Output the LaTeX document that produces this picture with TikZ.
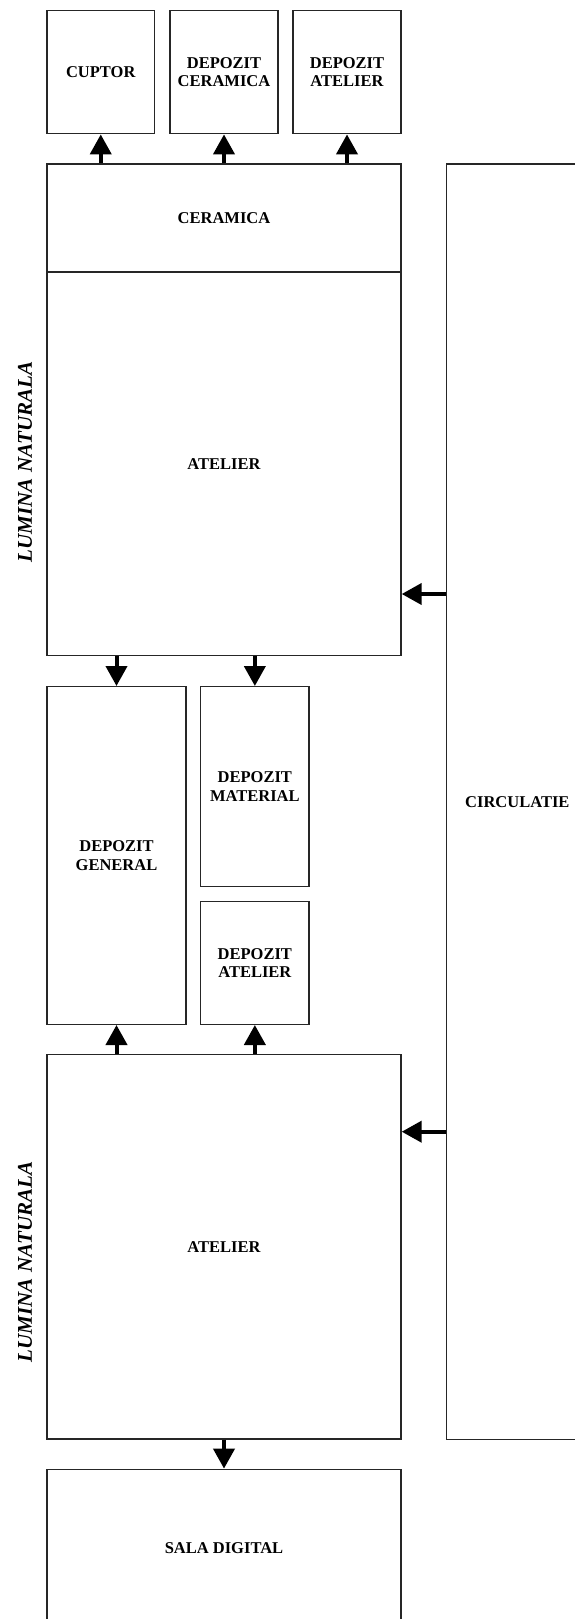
\documentclass[tikz,border=0pt]{standalone}
\usepackage{fontspec}
\setmainfont{Liberation Serif}
\usetikzlibrary{arrows.meta}
\begin{document}
\begin{tikzpicture}[x=1pt,y=-1pt,
  room/.style={draw=black!85,line width=1.4pt,rectangle,inner sep=0pt,align=center,
    font=\fontsize{16.5}{18.7}\selectfont\bfseries},
  flow/.style={line width=4pt,-{Triangle[length=20pt,width=21pt]}},
  side/.style={rotate=90,font=\fontsize{21}{23}\selectfont\bfseries\itshape}]
\useasboundingbox (0,0) rectangle (574,1619);
\newcommand{\roombox}[6]{\node[room,minimum width={#4-#2},minimum height={#5-#3}] (#1) at ({(#2+#4)/2},{(#3+#5)/2}) {#6};}
\roombox{cuptor}{47}{10.5}{154.5}{133.7}{CUPTOR}
\roombox{depcer}{170}{10.5}{278}{133.7}{DEPOZIT\\CERAMICA}
\roombox{depatA}{293}{10.5}{401}{133.7}{DEPOZIT\\ATELIER}
\roombox{ceramica}{47}{164}{401}{272}{CERAMICA}
\roombox{atelierA}{47}{272}{401}{655.7}{ATELIER}
\roombox{circ}{446.7}{164}{588}{1439.3}{CIRCULATIE}
\roombox{depgen}{47}{686.7}{186}{1024.3}{DEPOZIT\\GENERAL}
\roombox{depmat}{200.7}{686.7}{309}{886.3}{DEPOZIT\\MATERIAL}
\roombox{depatB}{200.7}{901.7}{309}{1024.3}{DEPOZIT\\ATELIER}
\roombox{atelierB}{47}{1054.5}{401}{1439}{ATELIER}
\roombox{sala}{47}{1469.3}{401}{1627}{SALA DIGITAL}
\node[side] (lumA) at (25,462) {LUMINA NATURALA};
\node[side] (lumB) at (25,1262) {LUMINA NATURALA};
\coordinate (ya) at (0,594);
\coordinate (yb) at (0,1131.7);
\draw[flow] (cuptor.south |- ceramica.north) -- (cuptor.south);
\draw[flow] (depcer.south |- ceramica.north) -- (depcer.south);
\draw[flow] (depatA.south |- ceramica.north) -- (depatA.south);
\draw[flow] (depgen.north |- atelierA.south) -- (depgen.north);
\draw[flow] (depmat.north |- atelierA.south) -- (depmat.north);
\draw[flow] (depgen.south |- atelierB.north) -- (depgen.south);
\draw[flow] (depatB.south |- atelierB.north) -- (depatB.south);
\draw[flow] (atelierB.south) -- (sala.north);
\draw[flow] (circ.west |- ya) -- (atelierA.east |- ya);
\draw[flow] (circ.west |- yb) -- (atelierB.east |- yb);
\end{tikzpicture}
\end{document}
